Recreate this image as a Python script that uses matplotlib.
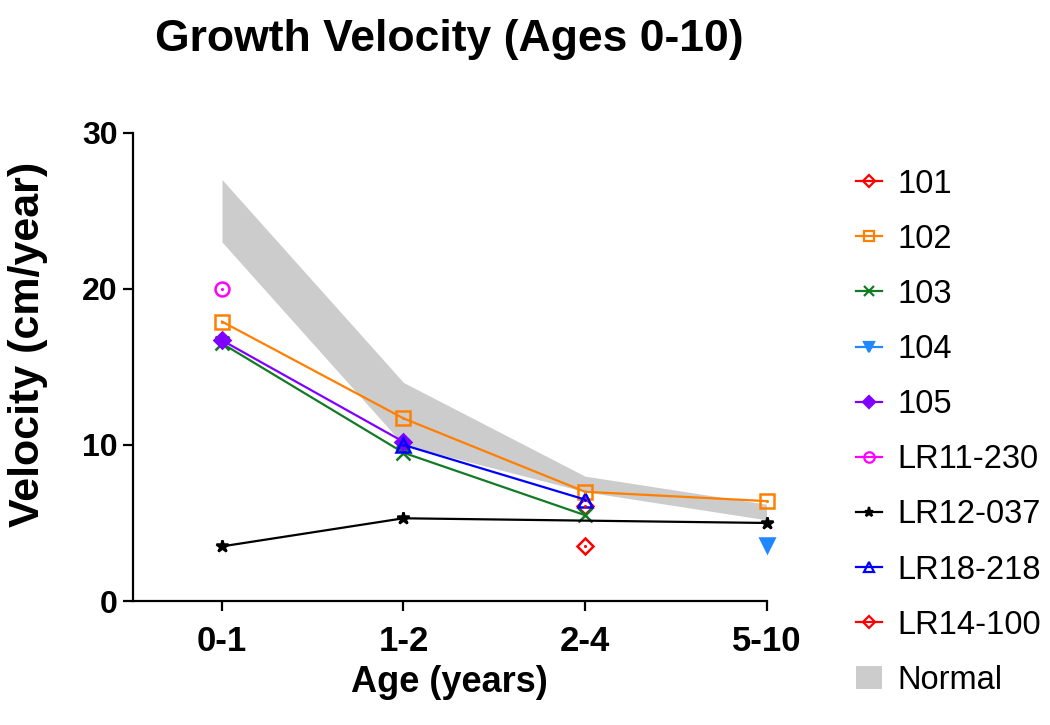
"""
Growth velocity by age band, with the normal range shaded
"""
import numpy as np
from matplotlib import pyplot as plt
from matplotlib.patches import Patch
from matplotlib.lines import Line2D

plt.rcParams['font.family'] = ['Liberation Sans', 'DejaVu Sans']

ages = ['0-1', '1-2', '2-4', '5-10']

normal_low = [23.0, 10.0, 7.0, 5.2]
normal_high = [27.0, 14.0, 8.0, 6.2]

v101 = [6.1]
v102 = [17.9, 11.7, 7.0, 6.4]
v103 = [16.5, 9.5, 5.5]
v104 = [3.6]
v105 = [16.7, 10.2]
v_lr11_230 = [20.0]
v_lr12_037 = [3.5, 5.3, 5.0]
v_lr18_218 = [10.0, 6.5]
v_lr14_100 = [3.5]

# (label, age index list, values, colour, marker, filled)
series = [
    ('101', [2], v101, '#ff0000', 'D', False),
    ('102', [0, 1, 2, 3], v102, '#ff7f00', 's', False),
    ('103', [0, 1, 2], v103, '#137a26', 'x', True),
    ('104', [3], v104, '#1f87ff', 'v', True),
    ('105', [0, 1], v105, '#8000ff', 'D', True),
    ('LR11-230', [0], v_lr11_230, '#ff00ff', 'o', False),
    ('LR12-037', [0, 1, 3], v_lr12_037, '#000000', '*', True),
    ('LR18-218', [1, 2], v_lr18_218, '#0000ff', '^', False),
    ('LR14-100', [2], v_lr14_100, '#ff0000', 'D', False),
]

fig = plt.figure(figsize=(10.5, 7.25), dpi=100)
ax = fig.add_axes([0.1267, 0.171, 0.6033, 0.646])

x = np.arange(len(ages))
ax.fill_between(x, normal_low, normal_high, color='#cccccc', lw=0, zorder=1)

handles = []
for label, idx, vals, color, marker, filled in series:
    ms = {'D': 8, '*': 9}.get(marker, 10)
    face = color if filled else 'none'
    ax.plot(idx, vals, color=color, lw=1.6, marker=marker, ms=ms,
            mfc=face, mec=color, mew=1.8, clip_on=False, zorder=3)
    if not filled:
        ax.plot(idx, vals, ls='none', marker='.', ms=2.5, color=color,
                clip_on=False, zorder=4)
    handles.append(Line2D([], [], color=color, lw=1.6, marker=marker,
                          ms=ms * 0.75, mfc=face, mec=color, mew=1.6,
                          label=label))
handles.append(Patch(facecolor='#cccccc', edgecolor='none', label='Normal'))

ax.set_xlim(-0.49, 3.0)
ax.set_ylim(0, 30)
ax.set_xticks(x)
ax.set_xticklabels(ages)
ax.set_yticks([0, 10, 20, 30])
for s in ['top', 'right']:
    ax.spines[s].set_visible(False)
for s in ['left', 'bottom']:
    ax.spines[s].set_linewidth(1.6)
ax.tick_params(width=1.6, length=7)
ax.tick_params(axis='x', labelsize=25, pad=10)
ax.tick_params(axis='y', labelsize=23, pad=4)
for t in ax.get_xticklabels() + ax.get_yticklabels():
    t.set_fontweight('bold')

ax.set_xlabel('Age (years)', fontsize=26, fontweight='bold', labelpad=5)
ax.set_ylabel('Velocity (cm/year)', fontsize=31, fontweight='bold',
              va='center')
ax.yaxis.set_label_coords(-0.166, 0.547)
fig.text(0.428, 0.945, 'Growth Velocity (Ages 0-10)', fontsize=32,
         fontweight='bold', ha='center', va='center')

fig.legend(handles=handles, loc='upper left', bbox_to_anchor=(0.80, 0.79),
           frameon=False, fontsize=23.5, handlelength=0.8, handletextpad=0.45,
           labelspacing=0.74, borderpad=0)

fig.savefig('out.png', dpi=100)
